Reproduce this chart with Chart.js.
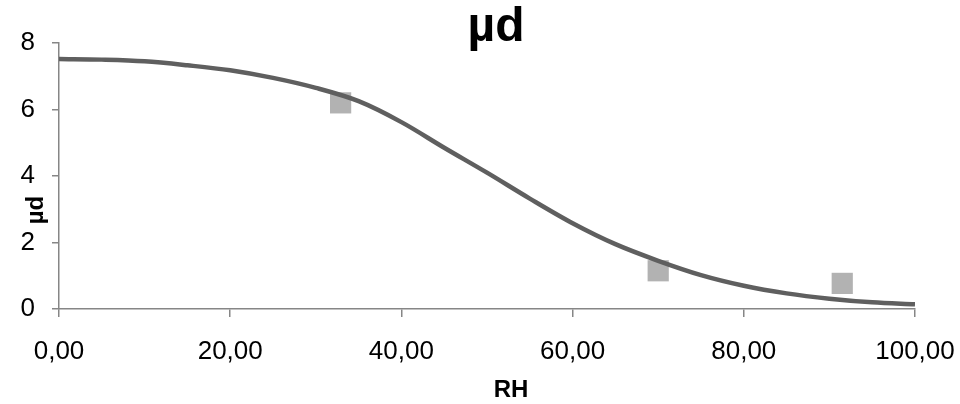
<!DOCTYPE html>
<html>
<head>
<meta charset="utf-8">
<script src="https://cdn.jsdelivr.net/npm/chart.js@4/dist/chart.umd.min.js"></script>
<style>
  html, body { margin: 0; padding: 0; background: #fff; }
  #box { width: 960px; height: 404px; }
</style>
</head>
<body>
<div id="box"><canvas id="Plot" width="960" height="404"></canvas></div>
<script>
// fitted curve, every 5 % RH
var curveRH = [0, 5, 10, 15, 20, 25, 30, 35, 40, 45, 50, 55, 60, 65, 70, 75, 80, 85, 90, 95, 100];
var curveMu = [7.52, 7.50, 7.45, 7.33, 7.18, 6.95, 6.65, 6.25, 5.62, 4.85, 4.10, 3.32, 2.58, 1.95, 1.45, 1.02, 0.70, 0.47, 0.31, 0.20, 0.14];

// measured points (grey squares)
var measRH = [32.9, 70.0, 91.5];
var measMu = [6.2, 1.15, 0.77];

var xTicks = [0, 20, 40, 60, 80, 100];
var yTicks = [0, 2, 4, 6, 8];

var xTitle = 'RH';
var yTitle = 'µd';

function pairs(xs, ys) {
  var arr = [];
  for (var i = 0; i < xs.length; i++) {
    arr.push({x: xs[i], y: ys[i]});
  }
  return arr;
}

Chart.defaults.font.family = "'Liberation Sans', Arial, sans-serif";
Chart.defaults.color = '#000';

var axisGrey = '#868686';

// nudge the title a little right, like the original
var titleShift = {
  id: 'titleShift',
  afterLayout: function(chart) {
    chart.titleBlock.left += 18;
  }
};

// axis titles sit off-centre in the original, so draw them by hand
var axisTitles = {
  id: 'axisTitles',
  afterDraw: function(chart) {
    var c = chart.ctx;
    var a = chart.chartArea;
    c.save();
    c.fillStyle = '#000';
    c.font = "bold 24px 'Liberation Sans', Arial, sans-serif";
    c.textAlign = 'center';
    c.textBaseline = 'alphabetic';
    c.fillText(xTitle, (a.left + a.right) / 2 + 24, 397);
    c.translate(43, (a.top + a.bottom) / 2 + 34);
    c.rotate(-Math.PI / 2);
    c.fillText(yTitle, 0, 0);
    c.restore();
  }
};

var ctx = document.getElementById('Plot').getContext('2d');
var myChart = new Chart(ctx, {
  type: 'scatter',
  data: {
    datasets: [{
      label: 'fit',
      data: pairs(curveRH, curveMu),
      showLine: true,
      borderColor: '#5f5f5f',
      borderWidth: 4.5,
      pointRadius: 0,
      cubicInterpolationMode: 'monotone'
    }, {
      label: 'data',
      data: pairs(measRH, measMu),
      pointStyle: 'rect',
      pointRadius: 15,
      pointBorderWidth: 0,
      backgroundColor: '#b2b2b2',
      borderColor: '#b2b2b2'
    }]
  },
  options: {
    responsive: false,
    animation: false,
    layout: { padding: { left: 0, right: 45, top: 0, bottom: 0 } },
    plugins: {
      legend: { display: false },
      tooltip: { enabled: false },
      title: {
        display: true,
        text: 'µd',
        fullSize: false,
        font: { size: 48, weight: 'bold', lineHeight: 1 },
        padding: { top: 3.4, bottom: -8.4 }
      }
    },
    scales: {
      x: {
        type: 'linear',
        min: 0, max: 100,
        afterFit: function(s) { s.height = 95; s.paddingLeft = 0; s.paddingRight = 0; },
        afterBuildTicks: function(s) { s.ticks = xTicks.map(function(v) { return {value: v}; }); },
        ticks: {
          font: { size: 26 },
          padding: 19,
          maxRotation: 0,
          callback: function(v) { return v.toFixed(2).replace('.', ','); }
        },
        grid: { drawOnChartArea: false, tickLength: 8, color: axisGrey, lineWidth: 1.5 },
        border: { color: axisGrey, width: 1.5 }
      },
      y: {
        min: 0, max: 8,
        afterFit: function(s) { s.width = 59; s.paddingTop = 0; s.paddingBottom = 0; },
        afterBuildTicks: function(s) { s.ticks = yTicks.map(function(v) { return {value: v}; }); },
        ticks: { font: { size: 26 }, padding: 17 },
        grid: { drawOnChartArea: false, tickLength: 7, color: axisGrey, lineWidth: 1.5 },
        border: { color: axisGrey, width: 1.5 }
      }
    }
  },
  plugins: [titleShift, axisTitles]
});
</script>
</body>
</html>
